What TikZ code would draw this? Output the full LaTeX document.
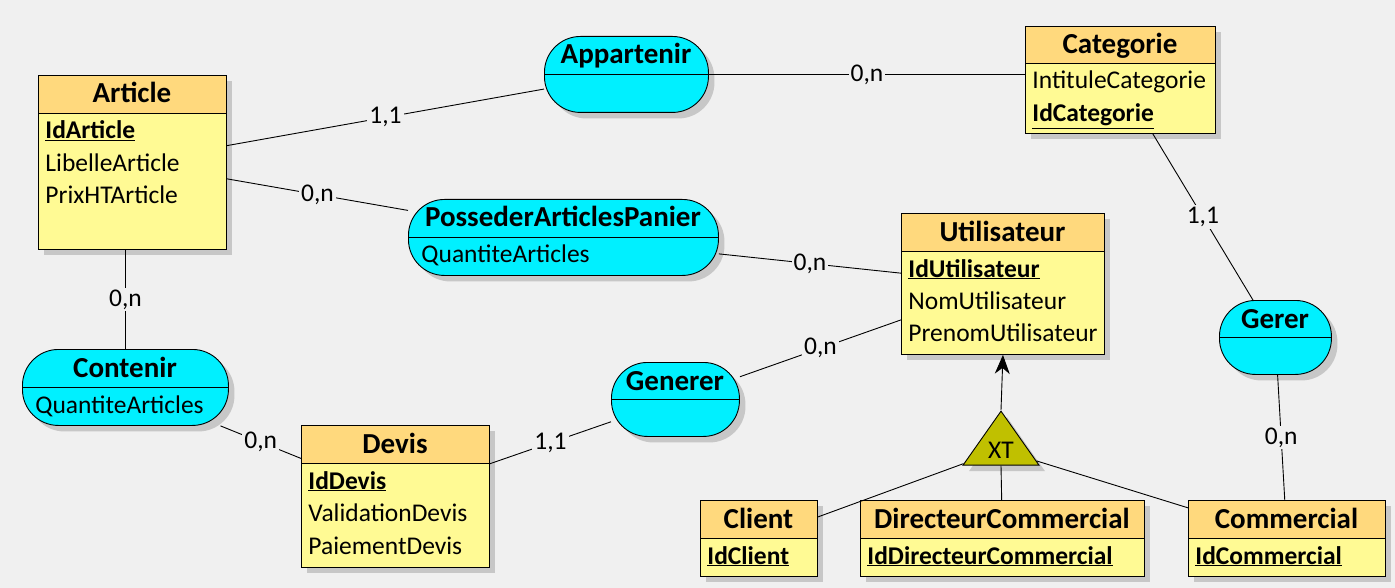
\documentclass[tikz,border=0pt]{standalone}
\usepackage{fontspec}
\setmainfont{Carlito}
\usetikzlibrary{shapes.geometric, shadows, arrows.meta}
\definecolor{bg}{RGB}{240,240,240}
\definecolor{enthead}{RGB}{255,217,125}
\definecolor{entbody}{RGB}{255,250,148}
\definecolor{assocfill}{RGB}{0,240,255}
\definecolor{xtfill}{RGB}{192,192,0}
\newcommand{\attrfont}{\fontsize{25.5}{30}\selectfont}
\newcommand{\titlefont}{\fontsize{29}{34}\selectfont\bfseries}
\newcommand{\idkey}[1]{\underline{\textbf{#1}}}
\begin{document}
\begin{tikzpicture}[x=1pt, y=-1pt, line width=0.9pt,
  ent/.style={rectangle, draw, fill=entbody, anchor=north west, inner sep=0pt,
    drop shadow={shadow xshift=6pt, shadow yshift=-6pt, fill=black!22, opacity=1}},
  head/.style={rectangle, draw, fill=enthead, anchor=north west, inner sep=0pt, minimum height=38pt},
  assoc/.style={rectangle, rounded corners=36pt, draw, fill=assocfill, anchor=north west,
    inner sep=0pt, minimum height=76pt,
    drop shadow={shadow xshift=6pt, shadow yshift=-6pt, fill=black!22, opacity=1}},
  title/.style={anchor=base, inner sep=0pt, font=\titlefont},
  attr/.style={anchor=base west, inner sep=0pt, font=\attrfont},
  card/.style={fill=bg, inner sep=2pt, font=\attrfont}]
\fill[bg] (0,0) rectangle (1395,588);

% entites
\node[ent, minimum width=188pt, minimum height=174pt] (0) at (38,75) {};
\node[head, minimum width=188pt] (0h) at (38,75) {};
\node[title] (0t) at (132,103) {Article};
\node[attr] (0a) at (45,139) {\idkey{IdArticle}};
\node[attr] (0b) at (45,171.5) {LibelleArticle};
\node[attr] (0c) at (45,204) {PrixHTArticle};

\node[ent, minimum width=190pt, minimum height=107pt] (2) at (1025,26) {};
\node[head, minimum width=190pt, minimum height=37pt] (2h) at (1025,26) {};
\node[title] (2t) at (1120,54) {Categorie};
\node[attr] (2a) at (1032,89) {IntituleCategorie};
\node[attr] (2b) at (1032,122) {\idkey{IdCategorie}};

\node[ent, minimum width=203pt, minimum height=141pt] (5) at (901,213) {};
\node[head, minimum width=203pt] (5h) at (901,213) {};
\node[title] (5t) at (1002.5,241) {Utilisateur};
\node[attr] (5a) at (908,277) {\idkey{IdUtilisateur}};
\node[attr] (5b) at (908,309) {NomUtilisateur};
\node[attr] (5c) at (908,341.5) {PrenomUtilisateur};

\node[ent, minimum width=188pt, minimum height=142pt] (7) at (301,425) {};
\node[head, minimum width=188pt] (7h) at (301,425) {};
\node[title] (7t) at (395,453) {Devis};
\node[attr] (7a) at (308,489) {\idkey{IdDevis}};
\node[attr] (7b) at (308,521.5) {ValidationDevis};
\node[attr] (7c) at (308,554) {PaiementDevis};

\node[ent, minimum width=117pt, minimum height=76pt] (9) at (700,500) {};
\node[head, minimum width=117pt] (9h) at (700,500) {};
\node[title] (9t) at (758.5,528) {Client};
\node[attr] (9a) at (707,564) {\idkey{IdClient}};

\node[ent, minimum width=284pt, minimum height=76pt] (10) at (860,500) {};
\node[head, minimum width=284pt] (10h) at (860,500) {};
\node[title] (10t) at (1002,528) {DirecteurCommercial};
\node[attr] (10a) at (867,564) {\idkey{IdDirecteurCommercial}};

\node[ent, minimum width=197pt, minimum height=76pt] (11) at (1188,500) {};
\node[head, minimum width=197pt] (11h) at (1188,500) {};
\node[title] (11t) at (1286.5,528) {Commercial};
\node[attr] (11a) at (1195,564) {\idkey{IdCommercial}};

% associations
\node[assoc, minimum width=164pt] (1) at (544,36) {};
\draw (1.west) -- (1.east);
\node[title] (1t) at (626,64) {Appartenir};

\node[assoc, minimum width=310pt] (3) at (408,199) {};
\draw (3.west) -- (3.east);
\node[title] (3t) at (563,226) {PossederArticlesPanier};
\node[attr] (3a) at (421,262) {QuantiteArticles};

\node[assoc, minimum width=206pt] (4) at (22,349) {};
\draw (4.west) -- (4.east);
\node[title] (4t) at (125,377) {Contenir};
\node[attr] (4a) at (35,413) {QuantiteArticles};

\node[assoc, minimum width=128pt, minimum height=74pt] (6) at (611,362) {};
\draw (6.west) -- (6.east);
\node[title] (6t) at (675,390) {Generer};

\node[assoc, minimum width=112pt, minimum height=74pt] (8) at (1219,300) {};
\draw (8.west) -- (8.east);
\node[title] (8t) at (1275,328) {Gerer};

% heritage
\node[isosceles triangle, shape border rotate=90, isosceles triangle stretches,
  minimum width=76pt, minimum height=54pt, inner sep=0pt, draw, fill=xtfill,
  font=\attrfont, anchor=apex,
  drop shadow={shadow xshift=6pt, shadow yshift=-6pt, fill=black!22, opacity=1}] (12) at (1001,410) {XT};

\path
(0) edge node[card]{1,1} (1)
    edge node[card]{0,n} (3)
(4.north |- 0.south) edge node[card]{0,n} (4)
(1) edge node[card]{0,n} (1 -| 2.west)
(3) edge node[card]{0,n} (5)
(4) edge node[card]{0,n} (7)
(7) edge node[card]{1,1} (6)
(6) edge node[card]{0,n} (5)
(2) edge node[card]{1,1} (8)
(8) edge node[card]{0,n} (11)
(12) edge (9)
     edge (11)
(12.south) edge (10)
(12.apex) edge[-{Stealth[length=19pt, width=15pt, inset=6pt]}] (5.south)
;
\end{tikzpicture}
\end{document}
